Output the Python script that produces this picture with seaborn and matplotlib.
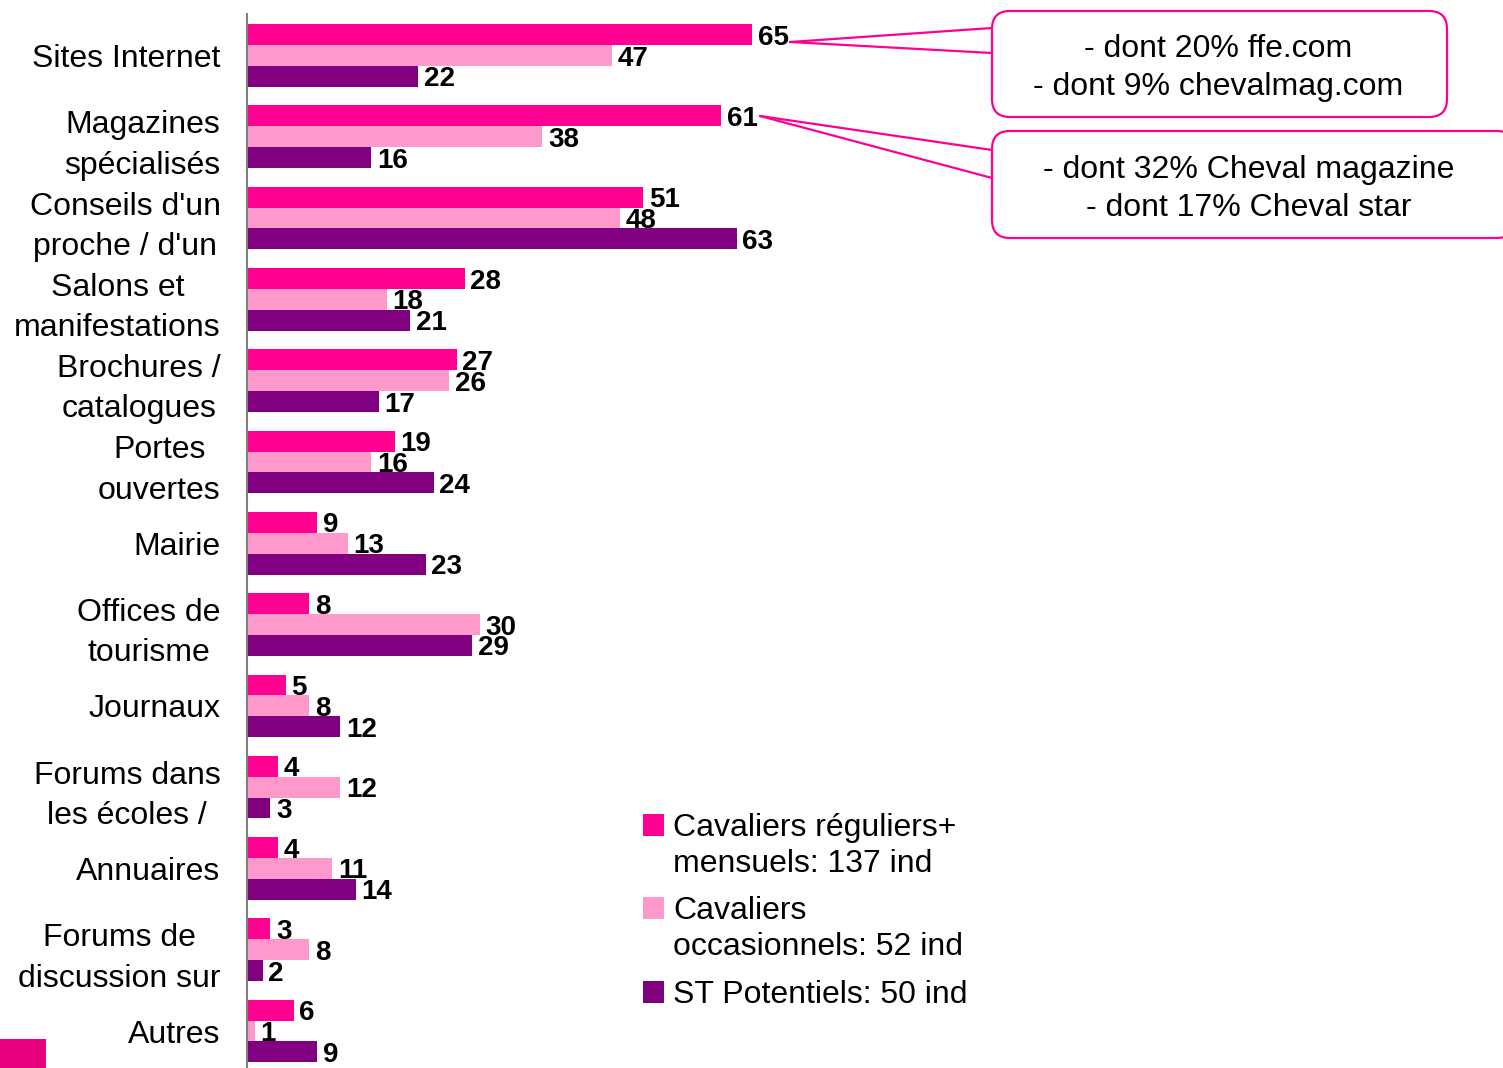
import matplotlib
matplotlib.use('Agg')
import matplotlib.pyplot as plt
import seaborn as sns
import pandas as pd
from matplotlib.patches import FancyBboxPatch, Rectangle, Patch
from matplotlib.lines import Line2D
from matplotlib.transforms import IdentityTransform

# ===============================
# Data
# ===============================
categories = ["Sites Internet", "Magazines\nspécialisés", "Conseils d'un\nproche / d'un",
              "Salons et\nmanifestations", "Brochures /\ncatalogues", "Portes\nouvertes",
              "Mairie", "Offices de\ntourisme", "Journaux", "Forums dans\nles écoles /",
              "Annuaires", "Forums de\ndiscussion sur", "Autres"]
reguliers = [65, 61, 51, 28, 27, 19, 9, 8, 5, 4, 4, 3, 6]
occasionnels = [47, 38, 48, 18, 26, 16, 13, 30, 8, 12, 11, 8, 1]
potentiels = [22, 16, 63, 21, 17, 24, 23, 29, 12, 3, 14, 2, 9]
series = ["Cavaliers réguliers+\nmensuels: 137 ind",
          "Cavaliers\noccasionnels: 52 ind",
          "ST Potentiels: 50 ind"]
colors = ["#FF0090", "#FF99CC", "#800080"]
callout_sites = "- dont 20% ffe.com\n- dont 9% chevalmag.com"
callout_mags = "- dont 32% Cheval magazine\n- dont 17% Cheval star"

df = pd.DataFrame({
    'categorie': categories * 3,
    'serie': [s for s in series for _ in categories],
    'valeur': reguliers + occasionnels + potentiels,
})

# ===============================
# Figure
# ===============================
sns.set_style('white')
plt.rcParams['font.family'] = ['Liberation Sans', 'DejaVu Sans']
plt.rcParams['text.color'] = 'black'
plt.rcParams['ytick.color'] = 'black'
plt.rcParams['ytick.labelcolor'] = 'black'

W, H = 1503, 1068
fig = plt.figure(figsize=(W / 100, H / 100), dpi=100)
ax = fig.add_axes([247 / W, 0, 1 - 247 / W, 1 - 14 / H])

sns.barplot(data=df, y='categorie', x='valeur', hue='serie', order=categories,
            hue_order=series, palette=dict(zip(series, colors)), orient='h',
            width=0.77, gap=0, saturation=1, linewidth=0, legend=False, ax=ax)

for c in ax.containers:
    labels = ax.bar_label(c, fmt='%g', padding=4, fontsize=20, fontweight='bold', color='black')
    for t in labels:
        t.xyann = (4, -2.2)  # labels sit a little below bar centre in the original

ax.set_xlim(0, 161.6)
ax.set_ylim(12.455, -0.51)
ax.set_xlabel('')
ax.set_ylabel('')
ax.set_xticks([])
ax.tick_params(axis='y', length=0, pad=19, labelsize=23, labelcolor='black')
for lab in ax.get_yticklabels():
    lab.set_multialignment('center')
    lab.set_linespacing(1.45)

sns.despine(ax=ax, top=True, right=True, bottom=True)
ax.spines['left'].set_color('#808080')
ax.spines['left'].set_linewidth(1.5)

# ===============================
# Legend: one block per series, square aligned with first line
# ===============================
legend_tops = [813, 896, 980]
for s, col, top in zip(series, colors, legend_tops):
    lines = s.split('\n')
    handles = [Patch(facecolor=col if k == 0 else 'none', edgecolor='none')
               for k in range(len(lines))]
    fig.legend(handles, lines, loc='upper left', bbox_to_anchor=(643 / W, 1 - top / H),
               frameon=False, fontsize=23, handlelength=0.66, handleheight=0.66,
               handletextpad=0.28, labelspacing=0.19, borderpad=0, borderaxespad=0)

# ===============================
# Callouts
# ===============================
pink = '#FF0090'
px = IdentityTransform()

def callout(x0, y0, x1, y1, text, tx, ty, start, ends):
    box = FancyBboxPatch((x0, H - y1), x1 - x0, y1 - y0,
                         boxstyle='round,pad=0,rounding_size=18',
                         facecolor='white', edgecolor=pink, linewidth=1.6,
                         transform=px, zorder=3)
    fig.add_artist(box)
    for ey in ends:
        fig.add_artist(Line2D([start[0], x0], [H - start[1], H - ey], color=pink,
                              linewidth=1.6, transform=px, zorder=2))
    fig.text(tx / W, 1 - ty / H, text, ha='center', va='center', fontsize=23,
             linespacing=1.32, color='black', zorder=4)

callout(992, 11, 1447, 117, callout_sites, 1218, 68, (790, 42), [28, 53])
callout(992, 131, 1515, 238, callout_mags, 1249, 189, (760, 116), [150, 178])

# small logo fragment bottom-left
fig.add_artist(Rectangle((0, 0), 46, 29, facecolor='#E6007E', edgecolor='none', transform=px))

fig.savefig('out.png', dpi=100)
plt.close(fig)
